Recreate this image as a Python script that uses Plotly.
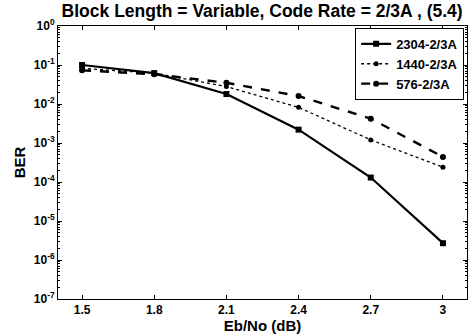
import plotly.graph_objects as go

ebno = [1.5, 1.8, 2.1, 2.4, 2.7, 3.0]
ber_2304 = [0.10, 0.062, 0.018, 0.0022, 1.3e-4, 2.7e-6]
ber_1440 = [0.082, 0.062, 0.028, 0.0082, 0.0012, 2.4e-4]
ber_576 = [0.073, 0.058, 0.035, 0.016, 0.0042, 4.4e-4]
names = ["2304-2/3A", "1440-2/3A", "576-2/3A"]
x_ticks = [1.5, 1.8, 2.1, 2.4, 2.7, 3.0]
x_ticktext = ["1.5", "1.8", "2.1", "2.4", "2.7", "3"]
y_exps = [0, -1, -2, -3, -4, -5, -6, -7]

FONT = "Liberation Sans"

fig = go.Figure()
fig.add_trace(go.Scatter(x=ebno, y=ber_2304, name="<b>%s</b>" % names[0], mode="lines+markers",
                         line=dict(color="black", width=2.2, dash="solid"),
                         marker=dict(symbol="square", size=6, color="black")))
fig.add_trace(go.Scatter(x=ebno, y=ber_1440, name="<b>%s</b>" % names[1], mode="lines+markers",
                         line=dict(color="black", width=1.3, dash="dot"),
                         marker=dict(symbol="circle", size=5, color="black")))
fig.add_trace(go.Scatter(x=ebno, y=ber_576, name="<b>%s</b>" % names[2], mode="lines+markers",
                         line=dict(color="black", width=2.4, dash="dash"),
                         marker=dict(symbol="circle", size=6, color="black")))

fig.update_layout(
    width=474, height=334,
    margin=dict(l=58, r=6, t=26, b=29),
    paper_bgcolor="white", plot_bgcolor="white",
    font=dict(family=FONT, color="black", size=12),
    title=dict(text="<b>Block Length = Variable, Code Rate = 2/3A , (5.4)</b>",
               x=0.553, xanchor="center", y=0.985, yanchor="top",
               font=dict(size=17.5, family=FONT)),
    showlegend=True,
    legend=dict(x=0.993, y=0.993, xanchor="right", yanchor="top",
                bgcolor="white", bordercolor="black", borderwidth=1,
                font=dict(size=13, family=FONT), tracegroupgap=0,
                itemwidth=30),
    xaxis=dict(range=[1.4, 3.1], tickvals=x_ticks,
               ticktext=["<b>%s</b>" % t for t in x_ticktext],
               ticks="inside", ticklen=4, tickcolor="black",
               showline=True, linecolor="black", linewidth=1, mirror="ticks",
               showgrid=False, zeroline=False,
               title=dict(text="<b>Eb/No (dB)</b>", font=dict(size=15), standoff=0),
               tickfont=dict(size=12)),
    yaxis=dict(type="log", range=[-7, 0],
               tickvals=[10 ** e for e in y_exps],
               ticktext=["<b>10<sup>%d</sup></b>" % e for e in y_exps],
               ticks="inside", ticklen=4, tickcolor="black",
               minor=dict(ticks="inside", ticklen=2, tickcolor="black", dtick="D1"),
               showline=True, linecolor="black", linewidth=1, mirror="ticks",
               showgrid=False, zeroline=False,
               title=dict(text="<b>BER</b>", font=dict(size=15), standoff=4),
               tickfont=dict(size=12)),
)

fig.write_html("out.html")
